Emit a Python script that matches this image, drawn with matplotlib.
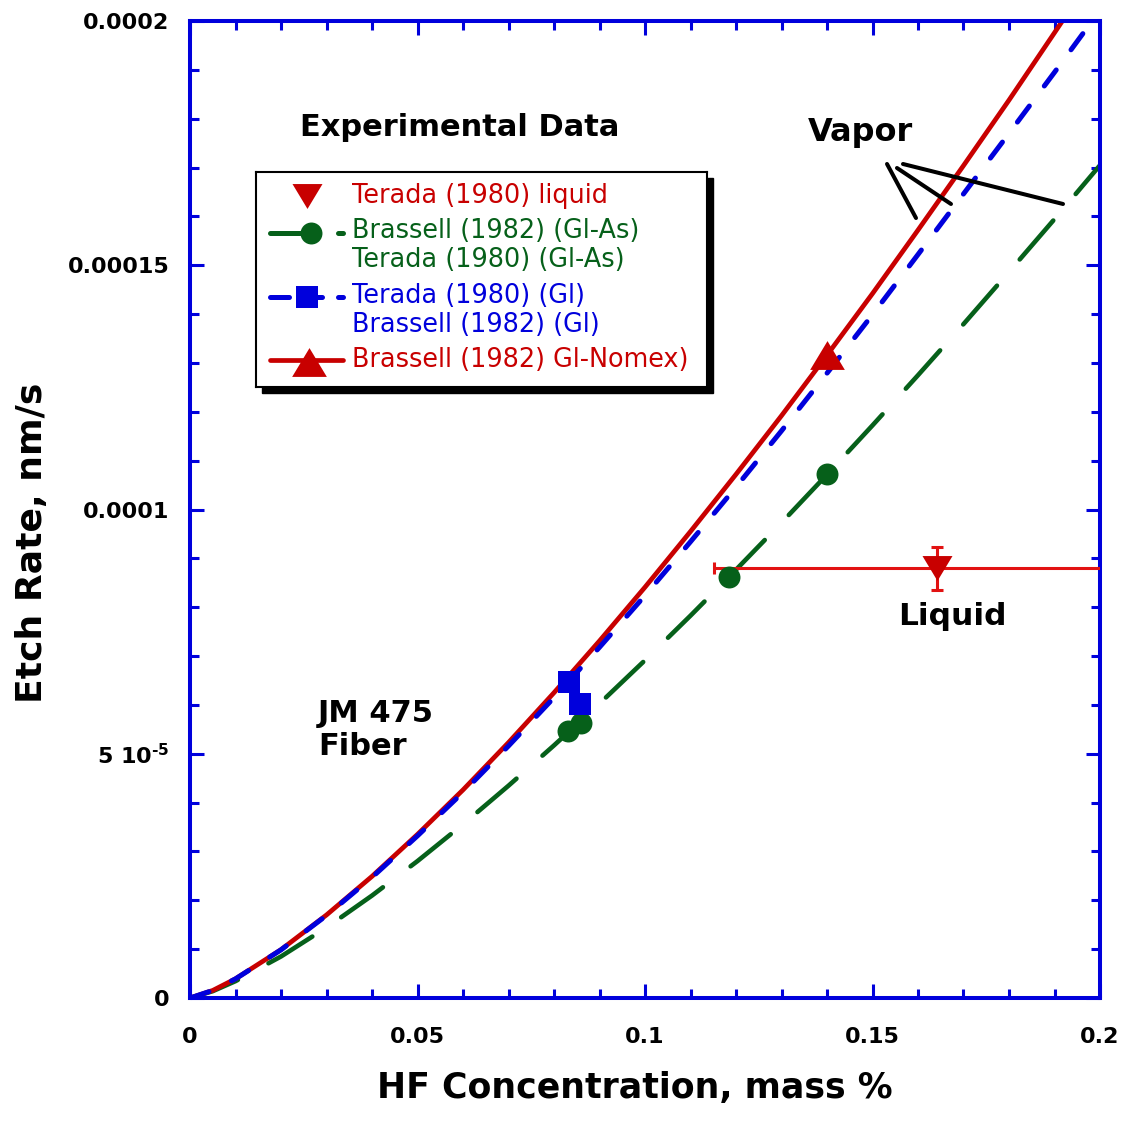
import matplotlib
matplotlib.use('Agg')
import matplotlib.pyplot as plt
from matplotlib.patches import Rectangle
from matplotlib.ticker import MultipleLocator, FixedLocator, FixedFormatter

plt.rcParams['font.family'] = ['DejaVu Sans']
plt.rcParams['mathtext.fontset'] = 'custom'
plt.rcParams['mathtext.rm'] = 'DejaVu Sans:bold'
plt.rcParams['mathtext.bf'] = 'DejaVu Sans:bold'
plt.rcParams['mathtext.default'] = 'rm'
plt.rcParams['lines.scale_dashes'] = False

# model curves (etch rate vs HF mass %)
hf = [0, 0.005, 0.01, 0.02, 0.03, 0.04, 0.05, 0.06, 0.07, 0.08, 0.09, 0.10,
      0.11, 0.12, 0.13, 0.14, 0.15, 0.16, 0.17, 0.18, 0.19, 0.20]
rate_nomex = [0, 1.55e-6, 3.93e-6, 9.9e-6, 1.70e-5, 2.49e-5, 3.35e-5, 4.26e-5, 5.23e-5,
              6.25e-5, 7.31e-5, 8.41e-5, 9.55e-5, 1.072e-4, 1.192e-4, 1.316e-4,
              1.442e-4, 1.572e-4, 1.704e-4, 1.838e-4, 1.976e-4, 2.115e-4]
rate_gl = [0, 1.55e-6, 3.92e-6, 9.86e-6, 1.69e-5, 2.47e-5, 3.32e-5, 4.21e-5, 5.16e-5,
           6.15e-5, 7.18e-5, 8.24e-5, 9.34e-5, 1.046e-4, 1.161e-4, 1.279e-4,
           1.399e-4, 1.522e-4, 1.646e-4, 1.770e-4, 1.895e-4, 2.022e-4]
rate_glas = [0, 1.4e-6, 3.45e-6, 8.50e-6, 1.442e-5, 2.097e-5, 2.803e-5, 3.555e-5, 4.346e-5,
             5.171e-5, 6.027e-5, 6.914e-5, 7.827e-5, 8.767e-5, 9.729e-5, 1.0715e-4,
             1.1722e-4, 1.2749e-4, 1.3795e-4, 1.4864e-4, 1.5945e-4, 1.7048e-4]

# experimental points
glas_x = [0.0831, 0.0859, 0.1185, 0.140]
glas_y = [5.47e-5, 5.63e-5, 8.62e-5, 1.073e-4]
gl_x = [0.0833, 0.0857]
gl_y = [6.47e-5, 6.02e-5]
nomex_x = [0.140]
nomex_y = [1.316e-4]
liq_x = [0.1641]
liq_y = [8.80e-5]
liq_xerr = [0.049]
liq_yerr = [4.4e-6]

# "Vapor" pointer lines
vapor_lines = [([0.15319, 0.15956], [1.7073e-4, 1.5967e-4]),
               ([0.15538, 0.16725], [1.6991e-4, 1.6254e-4]),
               ([0.15670, 0.19187], [1.7073e-4, 1.6254e-4])]

red = '#c80000'
red2 = '#e21212'
blue = '#0000dc'
green = '#06601a'

tri_up = [(0, 0.83), (-1, -0.83), (1, -0.83)]
tri_dn = [(0, -0.83), (-1, 0.83), (1, 0.83)]

W, H = 1128, 1122
fig = plt.figure(figsize=(W / 100, H / 100), dpi=100)
ax = fig.add_axes([190 / W, 1 - 998 / H, 910 / W, 977 / H])

ax.plot(hf, rate_glas, color=green, lw=3.3, dashes=(37, 25), dash_capstyle='round', zorder=2)
ax.plot(hf, rate_gl, color=blue, lw=3.6, dashes=(14.4, 18), dash_capstyle='round', zorder=3)
ax.plot(hf, rate_nomex, color=red, lw=3.4, solid_capstyle='round', zorder=2.5)

ax.errorbar(liq_x, liq_y, xerr=liq_xerr, yerr=liq_yerr, fmt='none', ecolor=red2,
            elinewidth=2.2, capsize=4.3, capthick=2.2, zorder=4)
ax.plot(liq_x, liq_y, ls='none', marker=tri_dn, ms=21.6, color=red, mew=0, zorder=5)
ax.plot(glas_x, glas_y, ls='none', marker='o', ms=15.8, color=green, mew=0, zorder=5)
ax.plot(gl_x, gl_y, ls='none', marker='s', ms=15.8, color=blue, mew=0, zorder=6)
ax.plot(nomex_x, nomex_y, ls='none', marker=tri_up, ms=25, color=red, mew=0, zorder=6)

for xs, ys in vapor_lines:
    ax.plot(xs, ys, color='black', lw=2.9, solid_capstyle='round', zorder=7)

ax.set_xlim(0, 0.2)
ax.set_ylim(0, 0.0002)
ax.xaxis.set_major_locator(FixedLocator([0, 0.05, 0.1, 0.15, 0.2]))
ax.xaxis.set_major_formatter(FixedFormatter(['0', '0.05', '0.1', '0.15', '0.2']))
ax.xaxis.set_minor_locator(MultipleLocator(0.01))
ax.yaxis.set_major_locator(FixedLocator([0, 5e-5, 1e-4, 1.5e-4, 2e-4]))
ax.yaxis.set_major_formatter(FixedFormatter(['0', '5 10$^{\\text{-5}}$', '0.0001', '0.00015', '0.0002']))
ax.yaxis.set_minor_locator(MultipleLocator(1e-5))
ax.tick_params(which='both', direction='in', top=True, right=True, color=blue, width=2.2)
ax.tick_params(which='major', length=10)
ax.tick_params(which='minor', length=6.5)
ax.tick_params(axis='x', which='major', pad=21, labelsize=16)
ax.tick_params(axis='y', which='major', pad=15, labelsize=16)
for lab in ax.get_xticklabels() + ax.get_yticklabels():
    lab.set_fontweight('bold')
for sp in ax.spines.values():
    sp.set_color(blue)
    sp.set_linewidth(2.9)

ax.text(0.02418, 1.781e-4, 'Experimental Data', fontsize=22, fontweight='bold', va='center')
ax.text(0.1358, 1.771e-4, 'Vapor', fontsize=23, fontweight='bold', va='center')
ax.text(0.1556, 7.80e-5, 'Liquid', fontsize=22.5, fontweight='bold', va='center')
ax.text(0.02813, 5.486e-5, 'JM 475\nFiber', fontsize=22, fontweight='bold', va='center',
        linespacing=1.2)

fig.text(635 / W, 1 - 1098 / H, 'HF Concentration, mass %', fontsize=25, fontweight='bold',
         ha='center', va='baseline')
fig.text(32 / W, 1 - 543 / H, 'Etch Rate, nm/s', fontsize=26, fontweight='bold',
         ha='center', va='center', rotation=90)

# legend box with drop shadow
lx0, ly0, lw_, lh_ = 256, 172, 451, 215
shadow = Rectangle(((lx0 + 6) / W, 1 - (ly0 + lh_ + 6) / H), lw_ / W, lh_ / H,
                   transform=fig.transFigure, color='black', zorder=2)
fig.add_artist(shadow)
lax = fig.add_axes([lx0 / W, 1 - (ly0 + lh_) / H, lw_ / W, lh_ / H])
lax.set_zorder(3)
lax.set_xlim(0, lw_)
lax.set_ylim(lh_, 0)
lax.set_xticks([])
lax.set_yticks([])
for sp in lax.spines.values():
    sp.set_linewidth(1.5)
    sp.set_color('black')

lax.plot([51], [24], marker=tri_dn, ms=21.6, color=red, mew=0)
lax.plot([14, 55], [61, 61], color=green, lw=3.6, solid_capstyle='round')
lax.plot([55], [61], marker='o', ms=15.8, color=green, mew=0)
lax.plot([82, 87], [61, 61], color=green, lw=3.6, solid_capstyle='round')
lax.plot([14, 33], [125, 125], color=blue, lw=3.6, solid_capstyle='round')
lax.plot([51, 66], [125, 125], color=blue, lw=3.6, solid_capstyle='round')
lax.plot([51], [125], marker='s', ms=15.8, color=blue, mew=0)
lax.plot([82, 87], [125, 125], color=blue, lw=3.6, solid_capstyle='round')
lax.plot([14, 87], [188, 188], color=red, lw=3.4, solid_capstyle='round')
lax.plot([53], [190], marker=tri_up, ms=25, color=red, mew=0)

legend_rows = [(24, 'Terada (1980) liquid', red),
               (59, 'Brassell (1982) (Gl-As)', green),
               (88, 'Terada (1980) (Gl-As)', green),
               (124, 'Terada (1980) (Gl)', blue),
               (153, 'Brassell (1982) (Gl)', blue),
               (188, 'Brassell (1982) Gl-Nomex)', red)]
for yy, txt, col in legend_rows:
    lax.text(96, yy, txt, color=col, fontsize=18.4, va='center', ha='left')

fig.savefig('out.png', dpi=100)
